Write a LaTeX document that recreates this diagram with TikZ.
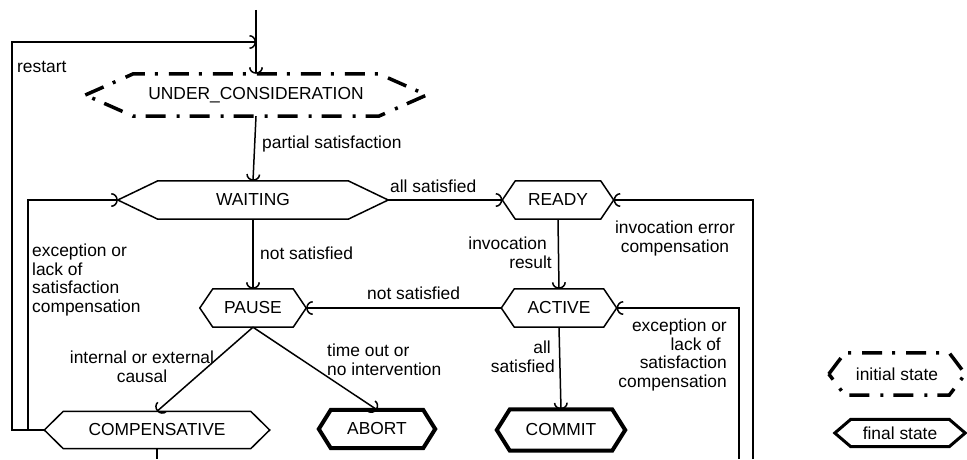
\documentclass[tikz,border=0pt]{standalone}
\usepackage{fontspec}
\setmainfont{Liberation Sans}
\usetikzlibrary{arrows.meta,calc}
\newcommand\hexpath[3]{%
  \draw[#1] (#2.west) -- ([xshift=#3]#2.north west) -- ([xshift=-#3]#2.north east) -- (#2.east)
    -- ([xshift=-#3]#2.south east) -- ([xshift=#3]#2.south west) -- cycle;}
\tikzset{
  txt/.style={font=\fontsize{17.4}{18.5}\selectfont, inner sep=0pt},
  lbl/.style={txt},
  st/.style={txt, minimum height=38pt},
  edge/.style={line width=1.5pt},
  arr/.style={edge, -{Arc Barb[width=14pt,length=6.5pt]}},
  hexline/.style={line width=1.5pt, line join=miter},
  hexinit/.style={line width=3.5pt, dash pattern=on 20pt off 10pt on 3pt off 11pt},
  hexfinal/.style={line width=4pt, line join=miter},
}
\begin{document}
\begin{tikzpicture}[x=1pt,y=-1pt]
\useasboundingbox (0,0) rectangle (967,459);
% states
\node[st, minimum width=341pt, minimum height=42pt] (uc) at (256,95) {UNDER\_CONSIDERATION};
\node[st, minimum width=270pt] (wait) at (253,200) {WAITING};
\node[st, minimum width=111pt] (ready) at (558,200) {READY};
\node[st, minimum width=106pt] (pause) at (253,308) {PAUSE};
\node[st, minimum width=115pt] (active) at (559,308) {ACTIVE};
\node[st, minimum width=225pt, minimum height=37pt] (comp) at (157,430) {COMPENSATIVE};
\node[st, minimum width=116pt, minimum height=38pt] (abort) at (377,429) {ABORT};
\node[st, minimum width=128pt, minimum height=41pt] (commit) at (561,430) {COMMIT};
\node[st, minimum width=136pt, minimum height=42pt] (linit) at (897,374) {initial state};
\node[st, minimum width=130pt, minimum height=27pt] (lfinal) at (900,433) {final state};
\hexpath{hexinit}{uc}{48pt}
\hexpath{hexline}{wait}{40pt}
\hexpath{hexline}{ready}{13pt}
\hexpath{hexline}{pause}{13pt}
\hexpath{hexline}{active}{13pt}
\hexpath{hexline}{comp}{19pt}
\hexpath{hexfinal}{abort}{12pt}
\hexpath{hexfinal}{commit}{13pt}
\hexpath{hexinit}{linit}{16pt}
\hexpath{hexfinal, line width=3pt}{lfinal}{16pt}
% helper coordinates
\path (uc.north) ++(0,-64) coordinate (topin);
\coordinate (rjy) at (0,42);
\coordinate (rj) at (uc.north |- rjy);
\coordinate (L1) at (12,0);
\coordinate (L2) at (28,0);
\coordinate (bot) at (0,459);
\coordinate (compout) at (comp.south |- bot);
\coordinate (R1) at (739,459);
\coordinate (R2) at (753,459);
% connectors
\draw[arr] (topin) -- (uc.north);
\draw[arr] (comp.west) -- (comp.west -| L1) -- (rj -| L1) -- (rj);
\draw[arr] (comp.west) -- (comp.west -| L2) -- (wait.west -| L2) -- (wait.west);
\draw[arr] (uc.south) -- (wait.north);
\draw[arr] (wait.east) -- (ready.west);
\draw[arr] (wait.south) -- (pause.north);
\draw[arr] (ready.south) -- (active.north);
\draw[arr] (active.west) -- (pause.east);
\draw[arr] (active.south) -- (commit.north);
\draw[arr] (pause.south) -- (comp.north);
\draw[arr] (pause.south) -- (abort.north);
\draw[edge] (comp.south) -- (compout);
\draw[arr] (R1) |- (active.east);
\draw[arr] (R2) |- (ready.east);
% labels (base anchor = baseline of last line)
\node[lbl, anchor=base west] (lrestart) at (17,72) {restart};
\node[lbl, anchor=base west] (lpartial) at (262,148) {partial satisfaction};
\node[lbl, anchor=base west] (lallsat) at (390,192) {all satisfied};
\node[lbl, anchor=base west] (lnotsat1) at (260,259) {not satisfied};
\node[lbl, anchor=base west, align=left] (lexc1) at (32,312) {exception or\\lack of\\satisfaction\\compensation};
\node[lbl, anchor=base east, align=right] (linvres) at (552,268) {invocation\kern5pt\\result};
\node[lbl, anchor=base, align=center] (linverr) at (675,252) {invocation error\\compensation};
\node[lbl, anchor=base west] (lnotsat2) at (367,299) {not satisfied};
\node[lbl, anchor=base east, align=right] (lexc2) at (727,387) {exception or\\lack of\kern6pt\\satisfaction\\compensation};
\node[lbl, anchor=base east, align=right] (lall) at (555,372) {all\kern4pt\\satisfied};
\node[lbl, anchor=base, align=center] (linternal) at (142,382) {internal or external\\causal};
\node[lbl, anchor=base west, align=left] (ltimeout) at (327,375) {time out or\\no intervention};
\end{tikzpicture}
\end{document}
